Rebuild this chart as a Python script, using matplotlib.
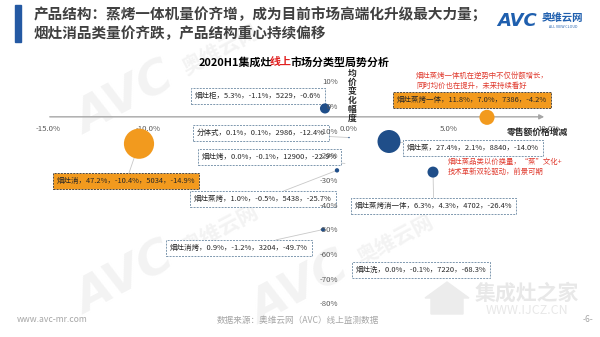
import matplotlib
matplotlib.use("Agg")
import matplotlib.pyplot as plt
from matplotlib.patches import Rectangle, Polygon

plt.rcParams["font.family"] = ["Noto Sans CJK SC", "DejaVu Sans"]

W, H = 600, 337

# category data: name, share, share change, avg price, avg price change
names = ["烟灶柜", "分体式", "烟灶烤", "烟灶消", "烟灶蒸烤", "烟灶消烤",
         "烟灶蒸烤一体", "烟灶蒸", "烟灶蒸烤消一体", "烟灶洗"]
share = [5.3, 0.1, 0.0, 47.2, 1.0, 0.9, 11.8, 27.4, 6.3, 0.0]
share_chg = [-1.1, 0.1, -0.1, -10.4, -0.5, -1.2, 7.0, 2.1, 4.3, -0.1]
avg_price = [5229, 2986, 12900, 5034, 5438, 3204, 7386, 8840, 4702, 7220]
price_chg = [-0.6, -12.4, -22.9, -14.9, -25.7, -49.7, -4.2, -14.0, -26.4, -68.3]
highlight = [False, False, False, True, False, False, True, False, False, False]

x_ticks = [-15, -10, -5, 0, 5, 10]
y_ticks = [10, 0, -10, -20, -30, -40, -50, -60, -70, -80]

title = "产品结构：蒸烤一体机量价齐增，成为目前市场高端化升级最大力量；\n烟灶消品类量价齐跌，产品结构重心持续偏移"
chart_title = ["2020H1集成灶", "线上", "市场分类型局势分析"]
note_steam_bake = "烟灶蒸烤一体机在逆势中不仅份额增长，\n同时均价也在提升，未来持续看好"
note_steam = "烟灶蒸品类以价换量，“蒸”文化+\n技术革新双轮驱动，前景可期"
source = "数据来源：奥维云网（AVC）线上监测数据"

# label layout (pixels from top-left: text left edge, centre y) and leader flags
label_pos = [(195, 96), (197, 133), (202, 157), (57, 181), (194, 199),
             (170, 248), (397, 100), (407, 148), (355, 206), (356, 270)]
leader = [False, True, True, True, True, True, False, True, True, False]

ORANGE = "#F29A1E"
BLUE = "#1F4E89"
AXIS_GRAY = "#A6A6A6"
TEXT_GRAY = "#595959"
WM_GRAY = "#F3F3F3"
AXIS_CROSS_Y = -4.0


def fig_px(x, y):
    return x / W, 1 - y / H


fig = plt.figure(figsize=(W / 100, H / 100), dpi=100)
fig.patch.set_facecolor("white")

# faint watermarks, kept under everything else
for (wx, wy) in [(125, 100), (125, 280), (300, 290)]:
    fig.text(*fig_px(wx, wy), "AVC", fontsize=34, fontweight="bold", style="italic",
             color=WM_GRAY, rotation=28, ha="center", va="center",
             family="DejaVu Sans", zorder=-5)
    fig.text(*fig_px(wx + 95, wy - 50), "奥维云网", fontsize=15, fontweight="bold",
             color=WM_GRAY, rotation=28, ha="center", va="center", zorder=-5)
fig.text(*fig_px(527, 293), "集成灶之家", fontsize=15, fontweight="bold",
         color="#E8E8E8", ha="center", va="center", zorder=-4)
fig.text(*fig_px(527, 311), "WWW.IJCZ.CN", fontsize=9,
         color="#E8E8E8", ha="center", va="center", zorder=-4)
fig.patches.append(Polygon([fig_px(425, 298), fig_px(447, 282), fig_px(469, 298),
                            fig_px(463, 298), fig_px(463, 314), fig_px(431, 314),
                            fig_px(431, 298)], closed=True,
                           transform=fig.transFigure, color="#ECECEC", zorder=-4))

# header
fig.patches.append(Rectangle(fig_px(14.5, 42), 6.5 / W, 37 / H,
                             transform=fig.transFigure, color="#2459A3"))
fig.text(*fig_px(34, 24), title, fontsize=10.5, fontweight="bold",
         color="#404040", va="center", ha="left", linespacing=1.15)
fig.text(*fig_px(497, 21), "AVC", fontsize=13, fontweight="bold", style="italic",
         color="#1F5FAE", va="center", ha="left", family="DejaVu Sans")
fig.text(*fig_px(542, 18), "奥维云网", fontsize=7.5, fontweight="bold",
         color="#1F5FAE", va="center", ha="left")
fig.text(*fig_px(549, 26.5), "ALL VIEW CLOUD", fontsize=2.6,
         color="#1F5FAE", va="center", ha="left")

# chart title, with the red word in the middle
t0 = fig.text(*fig_px(199, 62), chart_title[0], fontsize=7.9, fontweight="bold",
              color="black", va="center", ha="left")
t1 = fig.text(0, 0, chart_title[1], fontsize=7.9, fontweight="bold", color="#E02020",
              va="center", ha="left")
t2 = fig.text(0, 0, chart_title[2], fontsize=7.9, fontweight="bold", color="black",
              va="center", ha="left")
fig.canvas.draw()
r = fig.canvas.get_renderer()
bb = t0.get_window_extent(r)
t1.set_position(fig.transFigure.inverted().transform((bb.x1 - 3, (bb.y0 + bb.y1) / 2)))
fig.canvas.draw()
bb = t1.get_window_extent(r)
t2.set_position(fig.transFigure.inverted().transform((bb.x1 - 1, (bb.y0 + bb.y1) / 2)))

# main axes mapped onto the slide area
x0, x1, ytop, ybot = 47, 547, 82.3, 304.3
ax = fig.add_axes([x0 / W, 1 - ybot / H, (x1 - x0) / W, (ybot - ytop) / H])
ax.set_xlim(-15, 10)
ax.set_ylim(-80, 10)
ax.axis("off")

arrow = dict(arrowstyle="-|>", color=AXIS_GRAY, lw=1.0, mutation_scale=7)
ax.annotate("", xy=(10, AXIS_CROSS_Y), xytext=(-15, AXIS_CROSS_Y), arrowprops=arrow)
ax.annotate("", xy=(0, 10.5), xytext=(0, -80), arrowprops=arrow)

for v in x_ticks:
    ax.annotate(f"{v:.1f}%", xy=(v, AXIS_CROSS_Y), xytext=(1, -8.6),
                textcoords="offset points", ha="center", va="center",
                fontsize=5.6, color=TEXT_GRAY, zorder=2)
for v in y_ticks:
    ax.annotate(f"{v}%", xy=(0, v), xytext=(-6.3, 0), textcoords="offset points",
                ha="right", va="center", fontsize=5.6, color=TEXT_GRAY, zorder=5)

fig.text(*fig_px(352, 69), "\n".join("均价变化幅度"), fontsize=6.3, fontweight="bold",
         color="#262626", ha="center", va="top", linespacing=1.0)
fig.text(*fig_px(568, 132), "零售额价格增减", fontsize=6.3, fontweight="bold",
         color="#262626", ha="right", va="center")

colors = [ORANGE if h else BLUE for h in highlight]
ax.scatter(share_chg, price_chg, s=[v * 10 for v in share], c=colors,
           edgecolors="none", zorder=4)

for i, name in enumerate(names):
    text = f"{name}，{share[i]:.1f}%，{share_chg[i]:.1f}%，{avg_price[i]}，{price_chg[i]:.1f}%"
    lx, ly = label_pos[i]
    box = dict(boxstyle="square,pad=0.5", lw=0.7, ls=(0, (2, 1.2)),
               fc=ORANGE if highlight[i] else "white",
               ec="#4A4A4A" if highlight[i] else "#7D97AE")
    props = dict(arrowstyle="-", color="#C8C8C8", lw=0.6, shrinkA=0, shrinkB=0) if leader[i] else None
    ax.annotate(text, xy=(share_chg[i], price_chg[i]), xytext=(lx, H - ly),
                textcoords="figure pixels", ha="left", va="center", fontsize=5.4,
                color="#262626", bbox=box, arrowprops=props, zorder=3)

fig.text(*fig_px(416, 81), note_steam_bake, fontsize=5.3, color="#E03A2E",
         ha="left", va="center", linespacing=1.35)
fig.text(*fig_px(448, 166.5), note_steam, fontsize=5.3, color="#E03A2E",
         ha="left", va="center", linespacing=1.35)

# footer
fig.text(*fig_px(17, 320), "www.avc-mr.com", fontsize=6.2, color=AXIS_GRAY,
         ha="left", va="center")
fig.text(*fig_px(217, 320), source, fontsize=6.2, color=AXIS_GRAY,
         ha="left", va="center")
fig.text(*fig_px(588, 320), "-6-", fontsize=6.2, color=AXIS_GRAY,
         ha="center", va="center")

fig.savefig("out.png", dpi=100)
